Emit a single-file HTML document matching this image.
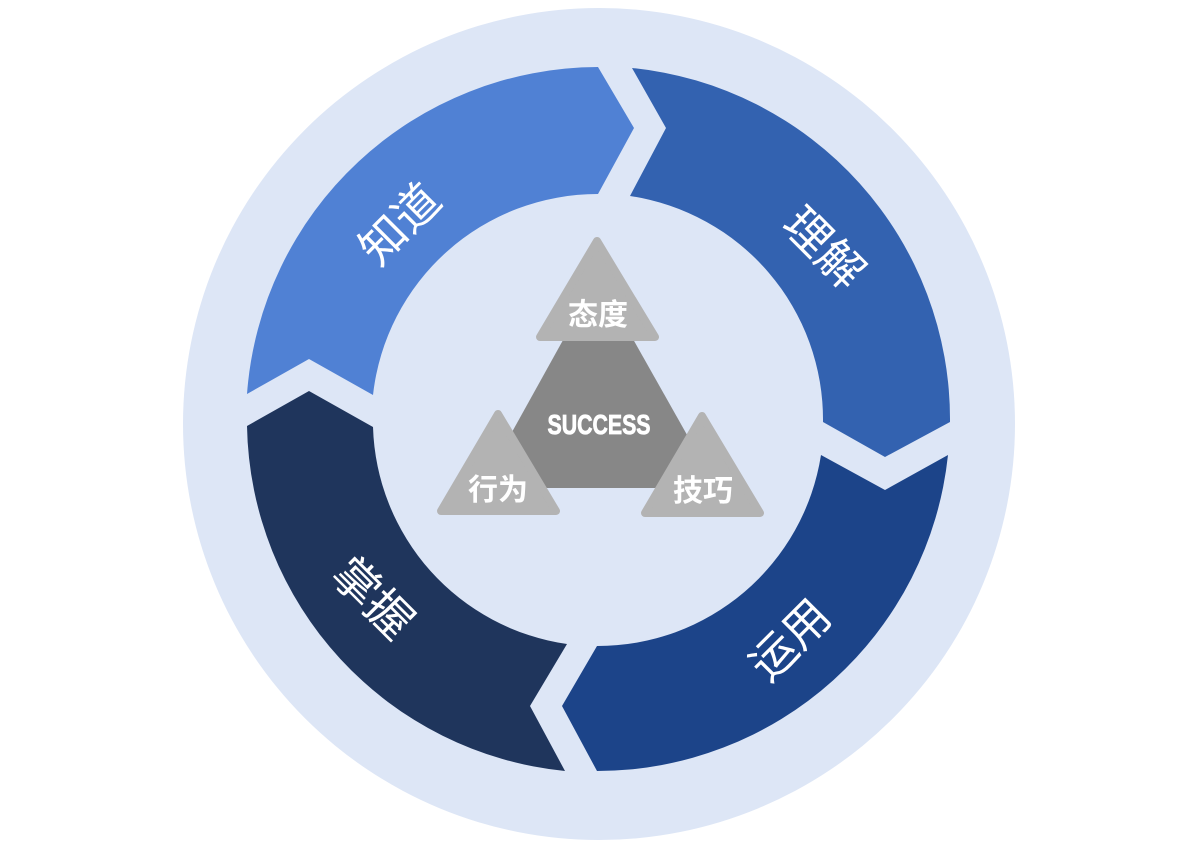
<!DOCTYPE html>
<html><head><meta charset="utf-8"><style>
html,body{margin:0;padding:0;background:#fff;}
svg{display:block;}
.l{font-family:"Liberation Sans","Noto Sans CJK SC",sans-serif;fill:#fff;}
</style></head><body>
<svg width="1200" height="850" viewBox="0 0 1200 850" xmlns="http://www.w3.org/2000/svg">
<circle cx="599" cy="424" r="416" fill="#dde6f6"/>
<path d="M247,394 A353 353 0 0 1 598,67 L634,128 L598,194 A226 226 0 0 0 373,395 L309,359 Z" fill="#5081d4"/>
<path d="M632,68 L666,128 L630,196 A226 226 0 0 1 823,422 L885,457 L950,422 A353 353 0 0 0 632,68 Z" fill="#3362b0"/>
<path d="M948,455 L885,490 L821,455 A226 226 0 0 1 597,646 L562,706 L597,771 A353 353 0 0 0 948,455 Z" fill="#1c4489"/>
<path d="M565,771 L530,706 L567,644 A226 226 0 0 1 373,427 L309,391 L247,426 A353 353 0 0 0 565,771 Z" fill="#1f355c"/>
<text class="l" font-size="46" text-anchor="middle" transform="translate(400,224) rotate(-45)" dominant-baseline="central">知道</text>
<text class="l" font-size="46" text-anchor="middle" transform="translate(824,248) rotate(45)" dominant-baseline="central">理解</text>
<text class="l" font-size="46" text-anchor="middle" transform="translate(790,640) rotate(-45)" dominant-baseline="central">运用</text>
<text class="l" font-size="46" text-anchor="middle" transform="translate(373,598) rotate(45)" dominant-baseline="central">掌握</text>
<g stroke-linejoin="round">
<path d="M598,277 L717,488 L481,488 Z" fill="#878787"/>
<path d="M597,241 L655,337 L540,337 Z" fill="#b3b3b3" stroke="#b3b3b3" stroke-width="8"/>
<path d="M498,414 L556,511 L441,511 Z" fill="#b3b3b3" stroke="#b3b3b3" stroke-width="8"/>
<path d="M702,416 L760,513 L645,513 Z" fill="#b3b3b3" stroke="#b3b3b3" stroke-width="8"/>
</g>
<text class="l" x="599" y="434" font-size="28" font-weight="bold" text-anchor="middle" textLength="103" lengthAdjust="spacingAndGlyphs" stroke="#fff" stroke-width="0.8">SUCCESS</text>
<text class="l" x="598" y="325" font-size="30" font-weight="bold" text-anchor="middle">态度</text>
<text class="l" x="498" y="500" font-size="30" font-weight="bold" text-anchor="middle">行为</text>
<text class="l" x="703" y="501" font-size="30" font-weight="bold" text-anchor="middle">技巧</text>
</svg>
</body></html>
